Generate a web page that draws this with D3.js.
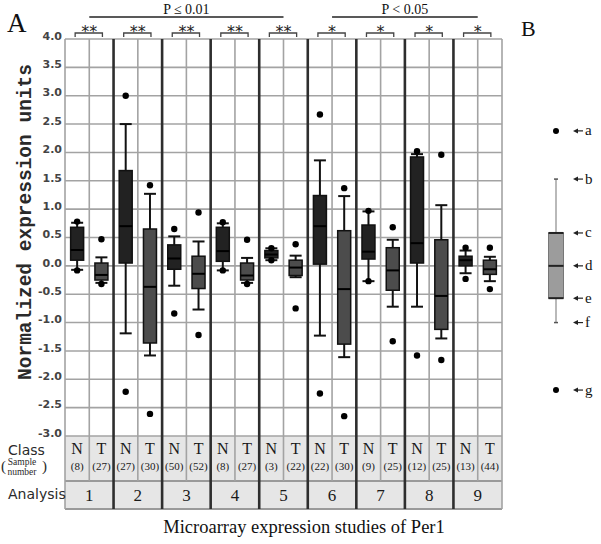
<!DOCTYPE html>
<html>
<head>
<meta charset="utf-8">
<script src="https://cdn.jsdelivr.net/npm/d3@7"></script>
<style>
  html, body { margin: 0; padding: 0; background: #fff; }
  #chart { width: 601px; height: 544px; }
</style>
</head>
<body>
<div id="chart"></div>
<script>
// analyses and classes (N = normal, T = tumour)
const groups = ['1', '2', '3', '4', '5', '6', '7', '8', '9'];
const classes = ['N', 'T'];
const sampleSizes = [8, 27, 27, 30, 50, 52, 8, 27, 3, 22, 22, 30, 9, 25, 12, 25, 13, 44];

// box stats, ordered 1N, 1T, 2N, 2T ...
const whiskerLow  = [-0.07, -0.30, -1.19, -1.58, -0.35, -0.77, -0.08, -0.30,  0.10, -0.20, -1.23, -1.61, -0.27, -0.72, -0.72, -1.28, -0.13, -0.27];
const q1          = [ 0.10, -0.25,  0.05, -1.36, -0.06, -0.40,  0.08, -0.25,  0.14, -0.17,  0.03, -1.38,  0.12, -0.43,  0.05, -1.12,  0.00, -0.15];
const median      = [ 0.28, -0.16,  0.70, -0.37,  0.13, -0.14,  0.26, -0.17,  0.20, -0.03,  0.70, -0.41,  0.25, -0.08,  0.40, -0.53,  0.10, -0.06];
const q3          = [ 0.68,  0.05,  1.68,  0.65,  0.37,  0.17,  0.68,  0.05,  0.27,  0.10,  1.24,  0.62,  0.72,  0.32,  1.92,  0.46,  0.17,  0.10];
const whiskerHigh = [ 0.76,  0.15,  2.50,  1.27,  0.52,  0.43,  0.75,  0.14,  0.31,  0.18,  1.86,  1.23,  0.96,  0.46,  1.97,  1.07,  0.27,  0.16];
const outliers = [
  [0.78, -0.08], [0.47, -0.32], [3.0, -2.22], [1.42, -2.61], [0.65, -0.84], [0.94, -1.22],
  [0.77, -0.08], [0.46, -0.32], [0.31, 0.10], [0.38, -0.75], [2.67, -2.25], [1.37, -2.65],
  [0.97, -0.27], [0.68, -1.33], [2.02, -1.58], [1.96, -1.66], [0.32, -0.23], [0.32, -0.41]
];

const stars = ['**', '**', '**', '**', '**', '*', '*', '*', '*'];
const pLabels = ['P \u2264 0.01', 'P < 0.05'];
const pFrom = ['1', '6'];
const pTo = ['5', '9'];

const yTicks = [-3.0, -2.5, -2.0, -1.5, -1.0, -0.5, 0.0, 0.5, 1.0, 1.5, 2.0, 2.5, 3.0, 3.5, 4.0];

// panel B key
const keyLetters = ['a', 'b', 'c', 'd', 'e', 'f', 'g'];
const keyValues = [2.38, 1.53, 0.58, 0.0, -0.57, -1.0, -2.19];

const serif = '"Liberation Serif", "Times New Roman", serif';
const sans = '"DejaVu Sans", Verdana, sans-serif';
const mono = '"Liberation Mono", "Courier New", monospace';

const w = 601, h = 544;
const plotLeft = 65, plotRight = 502, plotTop = 39, plotBottom = 436;
const classRowBottom = 481, tableBottom = 509;

const svg = d3.select('#chart').append('svg')
  .attr('width', w)
  .attr('height', h);

const xGroup = d3.scaleBand().domain(groups).range([plotLeft, plotRight]);
const xClass = d3.scaleBand().domain(classes).range([0, xGroup.bandwidth()]);
const yScale = d3.scaleLinear().domain([-3, 4]).range([plotBottom, plotTop]);

const cx = (g, c) => xGroup(g) + xClass(c) + xClass.bandwidth() / 2;

// table background
svg.append('rect')
  .attr('x', plotLeft).attr('y', plotBottom)
  .attr('width', plotRight - plotLeft).attr('height', tableBottom - plotBottom)
  .attr('fill', '#e6e6e6');

// horizontal grid
svg.append('g')
  .selectAll('line')
  .data(yTicks)
  .join('line')
  .attr('x1', plotLeft).attr('x2', plotRight)
  .attr('y1', d => yScale(d)).attr('y2', d => yScale(d))
  .attr('stroke', '#a3a3a3')
  .attr('stroke-width', 1.6);

[classRowBottom, tableBottom].forEach(y => {
  svg.append('line')
    .attr('x1', plotLeft).attr('x2', plotRight)
    .attr('y1', y).attr('y2', y)
    .attr('stroke', '#9a9a9a').attr('stroke-width', 2);
});

// thin lines between N and T
svg.append('g')
  .selectAll('line')
  .data(groups)
  .join('line')
  .attr('x1', d => xGroup(d) + xClass('T')).attr('x2', d => xGroup(d) + xClass('T'))
  .attr('y1', plotTop).attr('y2', classRowBottom)
  .attr('stroke', '#a3a3a3').attr('stroke-width', 1.6);

// outer edges
[plotLeft, plotRight].forEach(x => {
  svg.append('line')
    .attr('x1', x).attr('x2', x)
    .attr('y1', plotTop).attr('y2', tableBottom)
    .attr('stroke', '#a3a3a3').attr('stroke-width', 1.6);
});

// thick separators between analyses
svg.append('g')
  .selectAll('line')
  .data(groups.slice(1))
  .join('line')
  .attr('x1', d => xGroup(d)).attr('x2', d => xGroup(d))
  .attr('y1', plotTop).attr('y2', tableBottom)
  .attr('stroke', '#2e2e2e').attr('stroke-width', 2.6);

// y axis
const yAxis = d3.axisLeft(yScale)
  .tickValues(yTicks)
  .tickFormat(d => d.toFixed(1))
  .tickSize(0)
  .tickPadding(3);

const yAxisG = svg.append('g')
  .attr('transform', `translate(${plotLeft},0)`)
  .call(yAxis);
yAxisG.select('.domain').remove();
yAxisG.selectAll('text')
  .attr('dy', '0.02em')
  .attr('font-family', sans)
  .attr('font-weight', 'bold')
  .attr('font-size', '11px')
  .attr('fill', '#444');

svg.append('text')
  .attr('transform', 'rotate(-90)')
  .attr('x', -222)
  .attr('y', 31)
  .attr('text-anchor', 'middle')
  .attr('font-family', mono)
  .attr('font-weight', 'bold')
  .attr('font-size', '19.5px')
  .attr('fill', '#2a2a2a')
  .text('Normalized expression units');

// boxes
const boxes = [];
groups.forEach((g, gi) => {
  classes.forEach((c, ci) => {
    const i = gi * 2 + ci;
    boxes.push({
      g, c, n: sampleSizes[i],
      lo: whiskerLow[i], q1: q1[i], med: median[i], q3: q3[i], hi: whiskerHigh[i],
      out: outliers[i]
    });
  });
});

const boxW = 13, capW = 12;
const bx = svg.append('g')
  .selectAll('g')
  .data(boxes)
  .join('g');

bx.append('line')
  .attr('x1', d => cx(d.g, d.c)).attr('x2', d => cx(d.g, d.c))
  .attr('y1', d => yScale(d.lo)).attr('y2', d => yScale(d.hi))
  .attr('stroke', '#111').attr('stroke-width', 2);

bx.selectAll('.cap')
  .data(d => [d.lo, d.hi].map(v => ({ x: cx(d.g, d.c), v })))
  .join('line')
  .attr('class', 'cap')
  .attr('x1', d => d.x - capW / 2).attr('x2', d => d.x + capW / 2)
  .attr('y1', d => yScale(d.v)).attr('y2', d => yScale(d.v))
  .attr('stroke', '#111').attr('stroke-width', 2);

bx.append('rect')
  .attr('x', d => cx(d.g, d.c) - boxW / 2)
  .attr('y', d => yScale(d.q3))
  .attr('width', boxW)
  .attr('height', d => yScale(d.q1) - yScale(d.q3))
  .attr('fill', d => d.c === 'N' ? '#222' : '#4c4c4c')
  .attr('stroke', '#111')
  .attr('stroke-width', 1.5);

bx.append('line')
  .attr('x1', d => cx(d.g, d.c) - boxW / 2).attr('x2', d => cx(d.g, d.c) + boxW / 2)
  .attr('y1', d => yScale(d.med)).attr('y2', d => yScale(d.med))
  .attr('stroke', '#000').attr('stroke-width', 2);

bx.selectAll('circle')
  .data(d => d.out.map(v => ({ x: cx(d.g, d.c), v })))
  .join('circle')
  .attr('cx', d => d.x)
  .attr('cy', d => yScale(d.v))
  .attr('r', 3.2)
  .attr('fill', '#000');

// significance brackets
const br = svg.append('g')
  .selectAll('g')
  .data(groups)
  .join('g');

br.append('path')
  .attr('d', d => {
    const a = cx(d, 'N') - 2, b = cx(d, 'T') + 1;
    return `M${a},37V33H${b}V37`;
  })
  .attr('fill', 'none')
  .attr('stroke', '#444')
  .attr('stroke-width', 1.3);

br.append('text')
  .attr('x', d => xGroup(d) + xGroup.bandwidth() / 2)
  .attr('y', 37)
  .attr('text-anchor', 'middle')
  .attr('font-family', sans)
  .attr('font-size', '16px')
  .attr('fill', '#222')
  .text((d, i) => stars[i]);

pLabels.forEach((lab, i) => {
  const a = xGroup(pFrom[i]) + xGroup.bandwidth() / 2;
  const b = xGroup(pTo[i]) + xGroup.bandwidth() / 2;
  svg.append('line')
    .attr('x1', a).attr('x2', b)
    .attr('y1', 17).attr('y2', 17)
    .attr('stroke', '#222').attr('stroke-width', 1.3);
  svg.append('text')
    .attr('x', (a + b) / 2)
    .attr('y', 14)
    .attr('text-anchor', 'middle')
    .attr('font-family', serif)
    .attr('font-size', '14px')
    .attr('fill', '#111')
    .text(lab);
});

// table text
svg.append('g')
  .selectAll('text')
  .data(boxes)
  .join('text')
  .attr('x', d => cx(d.g, d.c))
  .attr('y', 454)
  .attr('text-anchor', 'middle')
  .attr('font-family', serif)
  .attr('font-size', '16px')
  .attr('fill', '#1a1a1a')
  .text(d => d.c);

svg.append('g')
  .selectAll('text')
  .data(boxes)
  .join('text')
  .attr('x', d => cx(d.g, d.c))
  .attr('y', 470)
  .attr('text-anchor', 'middle')
  .attr('font-family', serif)
  .attr('font-size', '11px')
  .attr('fill', '#1a1a1a')
  .text(d => `(${d.n})`);

svg.append('g')
  .selectAll('text')
  .data(groups)
  .join('text')
  .attr('x', d => xGroup(d) + xGroup.bandwidth() / 2)
  .attr('y', 501)
  .attr('text-anchor', 'middle')
  .attr('font-family', serif)
  .attr('font-size', '17px')
  .attr('fill', '#1a1a1a')
  .text(d => d);

// row labels
svg.append('text')
  .attr('x', 8).attr('y', 455)
  .attr('font-family', sans).attr('font-size', '14px').attr('fill', '#2a2a2a')
  .text('Class');
svg.append('text')
  .attr('x', 8).attr('y', 499)
  .attr('font-family', sans).attr('font-size', '14px').attr('fill', '#2a2a2a')
  .text('Analysis');
svg.append('text')
  .attr('x', 1).attr('y', 471)
  .attr('font-family', serif).attr('font-size', '15px').attr('fill', '#2a2a2a')
  .text('(');
svg.append('text')
  .attr('x', 42).attr('y', 471)
  .attr('font-family', serif).attr('font-size', '15px').attr('fill', '#2a2a2a')
  .text(')');
svg.append('text')
  .attr('x', 22).attr('y', 465)
  .attr('text-anchor', 'middle')
  .attr('font-family', serif).attr('font-size', '9.5px').attr('fill', '#2a2a2a')
  .text('Sample');
svg.append('text')
  .attr('x', 22).attr('y', 475)
  .attr('text-anchor', 'middle')
  .attr('font-family', serif).attr('font-size', '9.5px').attr('fill', '#2a2a2a')
  .text('number');

// x title
svg.append('text')
  .attr('x', 304).attr('y', 533)
  .attr('text-anchor', 'middle')
  .attr('font-family', serif)
  .attr('font-size', '18.5px')
  .attr('fill', '#111')
  .text('Microarray expression studies of Per1');

// panel letters
svg.append('text')
  .attr('x', 7).attr('y', 32)
  .attr('font-family', serif).attr('font-size', '27px').attr('fill', '#111')
  .text('A');
svg.append('text')
  .attr('x', 521).attr('y', 36)
  .attr('font-family', serif).attr('font-size', '22px').attr('fill', '#111')
  .text('B');

// panel B: how to read a box
const kx = 556, kw = 15;
const key = svg.append('g');
const kv = keyLetters.map((k, i) => ({ k, v: keyValues[i] }));
key.append('line')
  .attr('x1', kx).attr('x2', kx)
  .attr('y1', yScale(keyValues[1])).attr('y2', yScale(keyValues[5]))
  .attr('stroke', '#8a8a8a').attr('stroke-width', 1.2);
[keyValues[1], keyValues[5]].forEach(v => {
  key.append('line')
    .attr('x1', kx - 2).attr('x2', kx + 2)
    .attr('y1', yScale(v)).attr('y2', yScale(v))
    .attr('stroke', '#555').attr('stroke-width', 1.5);
});
key.append('rect')
  .attr('x', kx - kw / 2)
  .attr('y', yScale(keyValues[2]))
  .attr('width', kw)
  .attr('height', yScale(keyValues[4]) - yScale(keyValues[2]))
  .attr('fill', '#9c9c9c')
  .attr('stroke', '#777')
  .attr('stroke-width', 1);
[keyValues[2], keyValues[3], keyValues[4]].forEach(v => {
  key.append('line')
    .attr('x1', kx - kw / 2).attr('x2', kx + kw / 2)
    .attr('y1', yScale(v)).attr('y2', yScale(v))
    .attr('stroke', '#222').attr('stroke-width', 2);
});
[keyValues[0], keyValues[6]].forEach(v => {
  key.append('circle')
    .attr('cx', kx).attr('cy', yScale(v))
    .attr('r', 3).attr('fill', '#000');
});

const arrows = key.selectAll('.arrow')
  .data(kv)
  .join('g')
  .attr('class', 'arrow')
  .attr('transform', d => `translate(0,${yScale(d.v)})`);
arrows.append('path')
  .attr('d', 'M573,0L578,-2.5L578,2.5Z')
  .attr('fill', '#222');
arrows.append('line')
  .attr('x1', 577).attr('x2', 583)
  .attr('y1', 0).attr('y2', 0)
  .attr('stroke', '#222').attr('stroke-width', 1.2);
arrows.append('text')
  .attr('x', 585)
  .attr('y', 0)
  .attr('dy', '0.3em')
  .attr('font-family', serif)
  .attr('font-size', '15px')
  .attr('fill', '#111')
  .text(d => d.k);
</script>
</body>
</html>
